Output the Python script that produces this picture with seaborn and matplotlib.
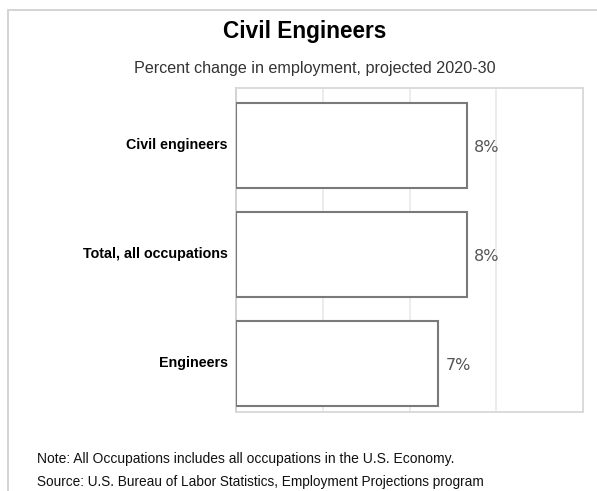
import matplotlib
matplotlib.use("Agg")
import matplotlib.pyplot as plt
import matplotlib.transforms as mtransforms
import seaborn as sns
import pandas as pd
from matplotlib.lines import Line2D

# Projected employment change, 2020-30
categories = ["Civil engineers", "Total, all occupations", "Engineers"]
values = [8, 8, 7]
value_labels = ["8%", "8%", "7%"]

title = "Civil Engineers"
subtitle = "Percent change in employment, projected 2020-30"
note = "Note: All Occupations includes all occupations in the U.S. Economy."
source = "Source: U.S. Bureau of Labor Statistics, Employment Projections program"

df = pd.DataFrame({"category": categories, "value": values})

sns.set_theme(style="white")
plt.rcParams["font.family"] = ["DejaVu Sans"]

fig = plt.figure(figsize=(5.97, 4.91), dpi=100)
ax = fig.add_axes([236 / 597, 1 - 412 / 491, 347 / 597, 324 / 491])

sns.barplot(data=df, x="value", y="category", order=categories, orient="h",
            color="white", edgecolor="#7a7a7a", linewidth=1.5, width=0.78,
            ax=ax, zorder=3)

ax.set_xlim(0, 12)
ax.set_ylim(2.445, -0.528)
ax.set_xticks([3, 6, 9])
ax.xaxis.grid(True, color="#ebebeb", linewidth=1.3, zorder=0)
ax.set_axisbelow(True)
ax.tick_params(axis="x", length=0, labelbottom=False)
ax.tick_params(axis="y", length=0, pad=6)
ax.set_xlabel("")
ax.set_ylabel("")
lift = mtransforms.ScaledTranslation(0, 2 / 100, fig.dpi_scale_trans)
for lbl in ax.get_yticklabels():
    lbl.set_fontfamily("Liberation Sans")
    lbl.set_fontweight("bold")
    lbl.set_fontsize(10.3)
    lbl.set_color("black")
    lbl.set_transform(lbl.get_transform() + lift)
for sp in ax.spines.values():
    sp.set_color("#d8d8d8")
    sp.set_linewidth(1.3)
ax.spines["left"].set_color("#cfcfcf")

for i, (v, t) in enumerate(zip(values, value_labels)):
    ax.annotate(t, xy=(v, i), xytext=(5, -1.5), textcoords="offset points",
                ha="left", va="center", fontsize=11.5, color="#555555")

fig.text(305 / 597, 1 - 38 / 491, title, ha="center", va="baseline",
         fontsize=16.3, fontweight="bold", family="Liberation Sans",
         color="black")
fig.text(315 / 597, 1 - 73 / 491, subtitle, ha="center", va="baseline",
         fontsize=11.6, color="#333333", family="Liberation Sans")
fig.text(37 / 597, 1 - 463 / 491, note, ha="left", va="baseline",
         fontsize=10, color="#111111", family="Liberation Sans")
fig.text(37 / 597, 1 - 486 / 491, source, ha="left", va="baseline",
         fontsize=9.85, color="#111111", family="Liberation Sans")

# outer frame along top and left
fig.add_artist(Line2D([7.5 / 597, 7.5 / 597], [0, 1 - 9.5 / 491],
                      transform=fig.transFigure, color="#d4d4d4", linewidth=1.4))
fig.add_artist(Line2D([7.5 / 597, 1], [1 - 9.5 / 491, 1 - 9.5 / 491],
                      transform=fig.transFigure, color="#d4d4d4", linewidth=1.4))

fig.savefig("out.png", dpi=100, facecolor="white")
